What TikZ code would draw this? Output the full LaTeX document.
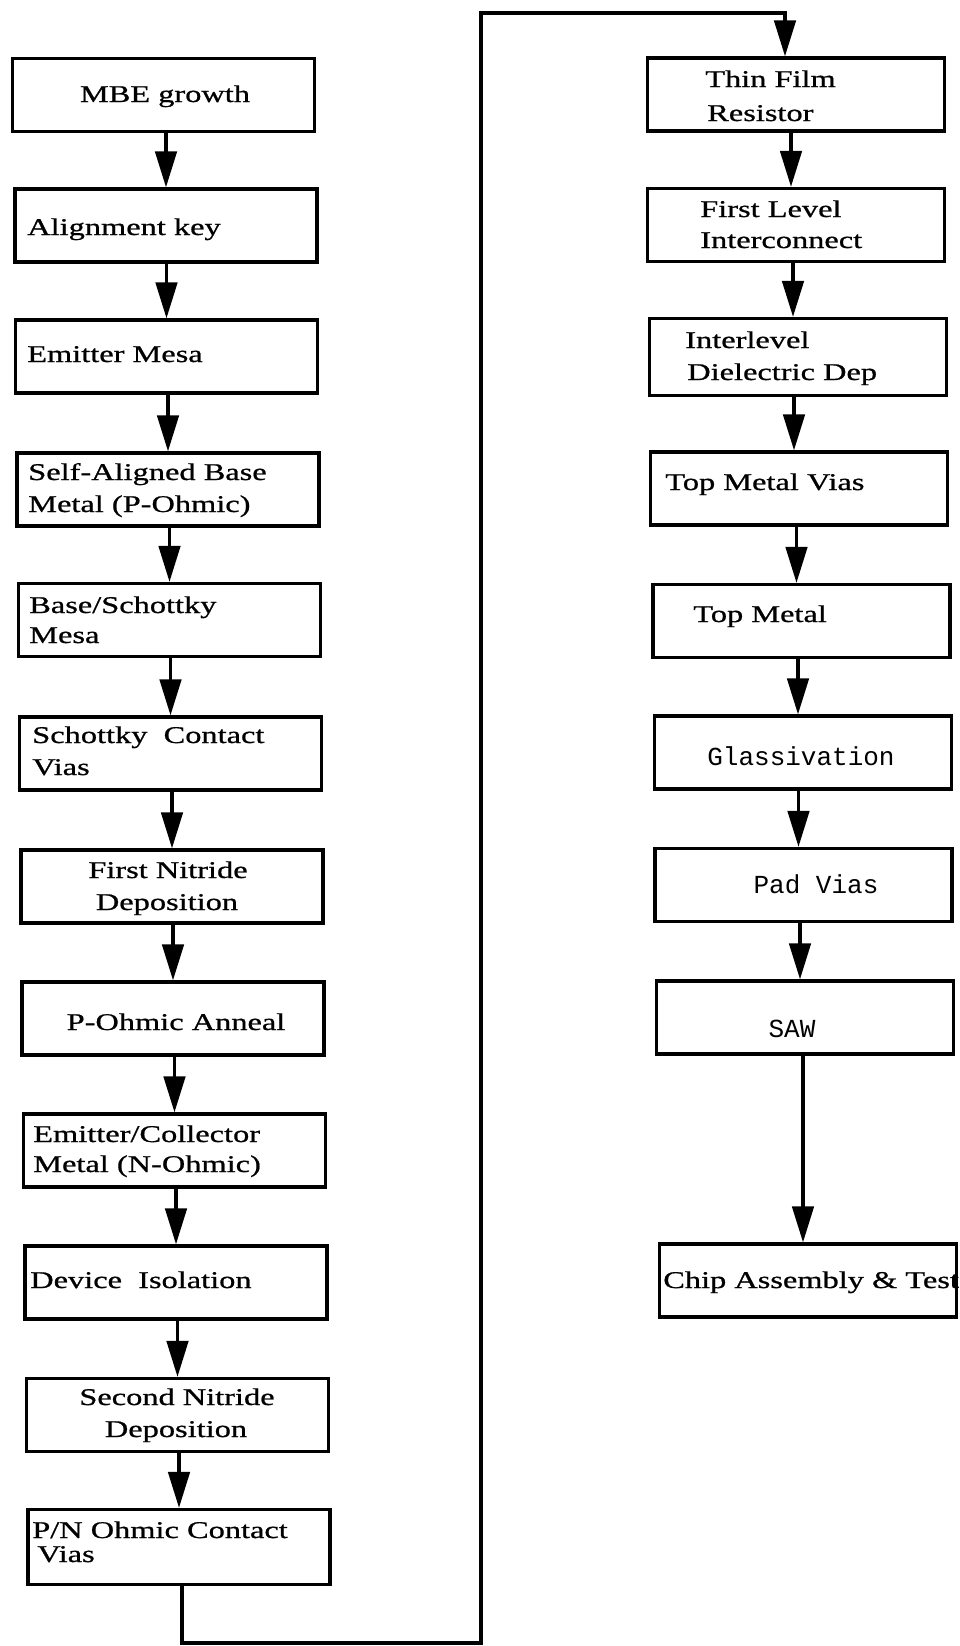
\documentclass[tikz,border=0pt]{standalone}
\usepackage{fontspec}
\setmainfont{Liberation Serif}[FakeStretch=1.35,FakeBold=0.8]
\newfontfamily\typefont{Liberation Mono}
\usetikzlibrary{arrows.meta}

\begin{document}
\begin{tikzpicture}[x=0.75pt,y=-0.75pt,
  lbox/.style={draw=black, line width=2.4pt, minimum width=226.5pt, minimum height=54.75pt, inner sep=0pt},
  rbox/.style={draw=black, line width=2.4pt, minimum width=222.75pt, minimum height=54.75pt, inner sep=0pt},
  ltxt/.style={inner sep=0pt, anchor=base west, font=\fontsize{18}{22}\selectfont},
  ctxt/.style={inner sep=0pt, anchor=base, font=\fontsize{18}{22}\selectfont},
  mtxt/.style={inner sep=0pt, anchor=base, font=\typefont\fontsize{19.5}{22}\selectfont},
  flow/.style={line width=2.7pt, line join=miter, -{Triangle[length=27pt,width=16pt]}}]

\useasboundingbox (0,0) rectangle (960,1646);

% ---- left column: front-end device steps ----
\node[lbox] (mbe)   at (163.5,95)    {};
\node[lbox] (align) at (166,225.5)   {};
\node[lbox] (emesa) at (166.5,356.5) {};
\node[lbox] (sabm)  at (168,489.5)   {};
\node[lbox] (bsm)   at (169.5,620)   {};
\node[lbox] (scv)   at (170.5,753.5) {};
\node[lbox] (fnd)   at (172,886.5)   {};
\node[lbox] (poa)   at (173,1018.5)  {};
\node[lbox] (ecm)   at (174.5,1150.5){};
\node[lbox] (dis)   at (176,1282.5)  {};
\node[lbox] (snd)   at (177.5,1415)  {};
\node[lbox, minimum height=56.25pt] (pnv) at (179,1547) {};

\node[ctxt] (mbe-a)   at (165,102)  {MBE growth};
\node[ltxt] (align-a) at (27,235)   {Alignment key};
\node[ltxt] (emesa-a) at (27,362)   {Emitter Mesa};
\node[ltxt] (sabm-a)  at (28,480)   {Self-Aligned Base};
\node[ltxt] (sabm-b)  at (28,512)   {Metal (P-Ohmic)};
\node[ltxt] (bsm-a)   at (29,613)   {Base/Schottky};
\node[ltxt] (bsm-b)   at (29,643)   {Mesa};
\node[ltxt] (scv-a)   at (32,743)   {Schottky\ \ Contact};
\node[ltxt] (scv-b)   at (32,775)   {Vias};
\node[ctxt] (fnd-a)   at (168,878)  {First Nitride};
\node[ctxt] (fnd-b)   at (167,910)  {Deposition};
\node[ctxt] (poa-a)   at (176,1030) {P-Ohmic Anneal};
\node[ltxt] (ecm-a)   at (33,1142)  {Emitter/Collector};
\node[ltxt] (ecm-b)   at (33,1172)  {Metal (N-Ohmic)};
\node[ltxt] (dis-a)   at (30,1288)  {Device\ \ Isolation};
\node[ctxt] (snd-a)   at (177,1405) {Second Nitride};
\node[ctxt] (snd-b)   at (176,1437) {Deposition};
\node[ltxt] (pnv-a)   at (32,1538)  {P/N Ohmic Contact};
\node[ltxt] (pnv-b)   at (37,1562)  {Vias};

% ---- right column: interconnect and back-end steps ----
\node[rbox] (tfr) at (796,94.5)   {};
\node[rbox] (fli) at (796,225)    {};
\node[rbox, minimum height=57.75pt] (idd) at (798,357) {};
\node[rbox] (tmv) at (799,488.5)  {};
\node[rbox] (tm)  at (801.5,621)  {};
\node[rbox] (gla) at (803,752.5)  {};
\node[rbox] (pad) at (803.5,885)  {};
\node[rbox] (saw) at (805,1017.5) {};
\node[rbox] (cat) at (808,1280.5) {};

\node[ltxt] (tfr-a) at (705,87)   {Thin Film};
\node[ltxt] (tfr-b) at (707,121)  {Resistor};
\node[ltxt] (fli-a) at (700,217)  {First Level};
\node[ltxt] (fli-b) at (700,248)  {Interconnect};
\node[ltxt] (idd-a) at (685,348)  {Interlevel};
\node[ltxt] (idd-b) at (687,380)  {Dielectric Dep};
\node[ltxt] (tmv-a) at (665,490)  {Top Metal Vias};
\node[ltxt] (tm-a)  at (693,622)  {Top Metal};
\node[mtxt] (gla-a) at (801,765)  {Glassivation};
\node[mtxt] (pad-a) at (816,893)  {Pad Vias};
\node[mtxt] (saw-a) at (792,1037) {SAW};
\node[ltxt] (cat-a) at (663,1288) {Chip Assembly \& Test};

% ---- connectors ----
\foreach \a/\b in {mbe/align, align/emesa, emesa/sabm, sabm/bsm, bsm/scv, scv/fnd,
                   fnd/poa, poa/ecm, ecm/dis, dis/snd, snd/pnv}
  \draw[flow] (\b.north |- \a.south) -- (\b.north);

\foreach \a/\b in {tfr/fli, fli/idd, idd/tmv, tmv/tm, tm/gla, gla/pad, pad/saw, saw/cat}
  \draw[flow] ([xshift=-3.75pt]\b.north |- \a.south) -- ([xshift=-3.75pt]\b.north);

% return path from the last front-end step to the first back-end step
\coordinate (busB) at (481,1643);
\coordinate (busT) at (481,13);
\draw[flow] ([xshift=2.25pt]pnv.south) |- (busB) -- (busT) -| ([xshift=-8.25pt]tfr.north);

\end{tikzpicture}
\end{document}
